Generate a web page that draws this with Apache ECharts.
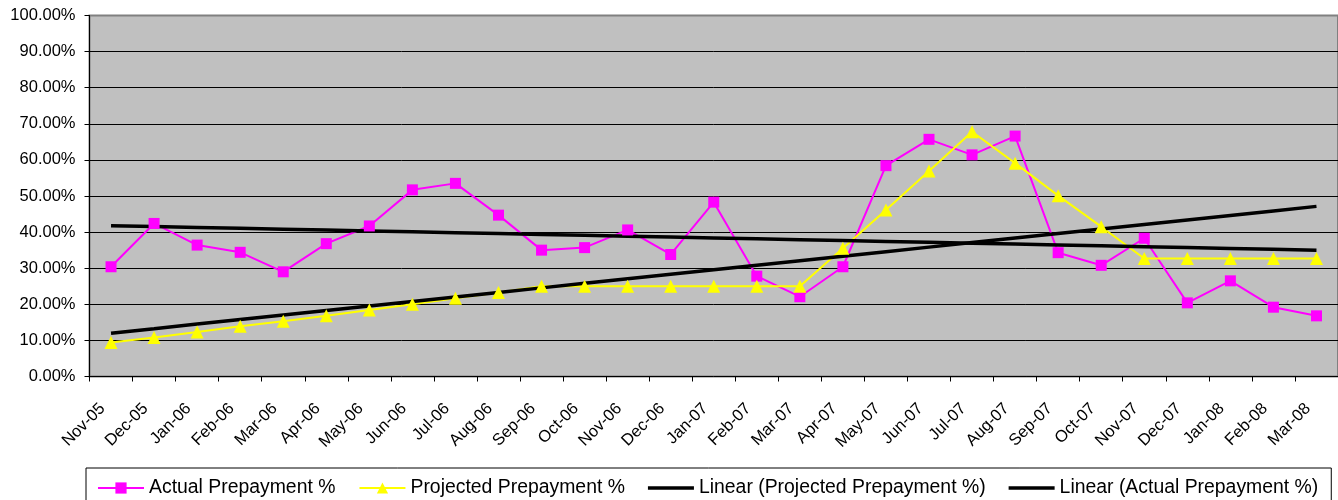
<!DOCTYPE html>
<html>
<head>
<meta charset="utf-8">
<title>Prepayment %</title>
<script src="https://cdn.jsdelivr.net/npm/echarts@6/dist/echarts.min.js"></script>
<style>
  html, body { margin: 0; padding: 0; background: #fff; }
  #chart { width: 1338px; height: 500px; }
</style>
</head>
<body>
<div id="chart"></div>
<script>
// Month labels for the horizontal axis
const months = [
  'Nov-05', 'Dec-05', 'Jan-06', 'Feb-06', 'Mar-06', 'Apr-06', 'May-06', 'Jun-06',
  'Jul-06', 'Aug-06', 'Sep-06', 'Oct-06', 'Nov-06', 'Dec-06', 'Jan-07', 'Feb-07',
  'Mar-07', 'Apr-07', 'May-07', 'Jun-07', 'Jul-07', 'Aug-07', 'Sep-07', 'Oct-07',
  'Nov-07', 'Dec-07', 'Jan-08', 'Feb-08', 'Mar-08'
];

// Monthly prepayment rates, in percent
const actualPrepayment = [
  30.4, 42.4, 36.4, 34.4, 29.0, 36.8, 41.7, 51.7,
  53.5, 44.7, 35.0, 35.7, 40.6, 33.8, 48.3, 27.8,
  22.1, 30.4, 58.4, 65.7, 61.4, 66.6, 34.3, 30.8,
  38.3, 20.4, 26.5, 19.2, 16.8
];
const projectedPrepayment = [
  9.4, 10.8, 12.3, 13.9, 15.3, 16.8, 18.4, 20.0,
  21.7, 23.3, 25.0, 25.0, 25.0, 25.0, 25.0, 25.0,
  25.0, 35.5, 46.1, 56.9, 67.8, 59.1, 50.1, 41.5,
  32.7, 32.7, 32.7, 32.7, 32.7
];

// Least-squares straight line over the month index
function linearTrend(values) {
  const n = values.length;
  let sx = 0, sy = 0, sxx = 0, sxy = 0;
  values.forEach((y, x) => { sx += x; sy += y; sxx += x * x; sxy += x * y; });
  const slope = (n * sxy - sx * sy) / (n * sxx - sx * sx);
  const intercept = (sy - slope * sx) / n;
  return values.map((_, x) => +(intercept + slope * x).toFixed(4));
}

const font = '"Liberation Sans", Arial, Helvetica, sans-serif';
// Plain thick bar used as the legend key of the trend lines
const trendIcon = 'path://M0,0 H46 V3.5 H0 Z';

const chart = echarts.init(document.getElementById('chart'), null, { renderer: 'canvas' });

chart.setOption({
  animation: false,
  backgroundColor: '#ffffff',
  textStyle: { fontFamily: font, color: '#000' },
  grid: {
    left: 89.5,
    top: 15.5,
    width: 1253,
    height: 361,
    show: true,
    backgroundColor: '#C0C0C0',
    borderColor: '#808080',
    borderWidth: 2
  },
  legend: {
    left: 86,
    top: 468,
    orient: 'horizontal',
    padding: [10, 13, 30, 11],
    itemGap: 23,
    itemWidth: 46,
    itemHeight: 14,
    symbolKeepAspect: true,
    borderColor: '#000',
    borderWidth: 1,
    backgroundColor: '#fff',
    textStyle: { fontFamily: font, fontSize: 19.4, color: '#000', lineHeight: 20 },
    data: [
      { name: 'Actual Prepayment %' },
      { name: 'Projected Prepayment %' },
      { name: 'Linear (Projected Prepayment %)', icon: trendIcon },
      { name: 'Linear (Actual Prepayment %)', icon: trendIcon }
    ]
  },
  xAxis: {
    type: 'category',
    data: months,
    boundaryGap: true,
    axisLine: { lineStyle: { color: '#000', width: 1 } },
    axisTick: { show: true, length: 5, alignWithLabel: false, lineStyle: { color: '#000' } },
    axisLabel: {
      interval: 0,
      rotate: 45,
      margin: 21,
      padding: [0, 12, 0, 0],
      fontFamily: font,
      fontSize: 16.5,
      color: '#000'
    },
    splitLine: { show: false }
  },
  yAxis: {
    type: 'value',
    min: 0,
    max: 100,
    interval: 10,
    axisLine: { show: true, lineStyle: { color: '#000', width: 1 } },
    axisTick: { show: true, length: 5, lineStyle: { color: '#000' } },
    axisLabel: {
      margin: 14,
      fontFamily: font,
      fontSize: 16.5,
      color: '#000',
      formatter: v => v.toFixed(2) + '%'
    },
    splitLine: {
      show: true,
      showMinLine: false,
      showMaxLine: false,
      lineStyle: { color: '#000', width: 1 }
    }
  },
  series: [
    {
      name: 'Actual Prepayment %',
      type: 'line',
      data: actualPrepayment,
      symbol: 'rect',
      symbolSize: 11,
      showAllSymbol: true,
      itemStyle: { color: '#FF00FF' },
      lineStyle: { color: '#FF00FF', width: 2 }
    },
    {
      name: 'Projected Prepayment %',
      type: 'line',
      data: projectedPrepayment,
      symbol: 'triangle',
      symbolSize: 13,
      showAllSymbol: true,
      itemStyle: { color: '#FFFF00' },
      lineStyle: { color: '#FFFF00', width: 2 }
    },
    {
      name: 'Linear (Projected Prepayment %)',
      type: 'line',
      data: linearTrend(projectedPrepayment),
      symbol: 'none',
      itemStyle: { color: '#000' },
      lineStyle: { color: '#000', width: 3.5 }
    },
    {
      name: 'Linear (Actual Prepayment %)',
      type: 'line',
      data: linearTrend(actualPrepayment),
      symbol: 'none',
      itemStyle: { color: '#000' },
      lineStyle: { color: '#000', width: 3.5 }
    }
  ]
});
</script>
</body>
</html>
